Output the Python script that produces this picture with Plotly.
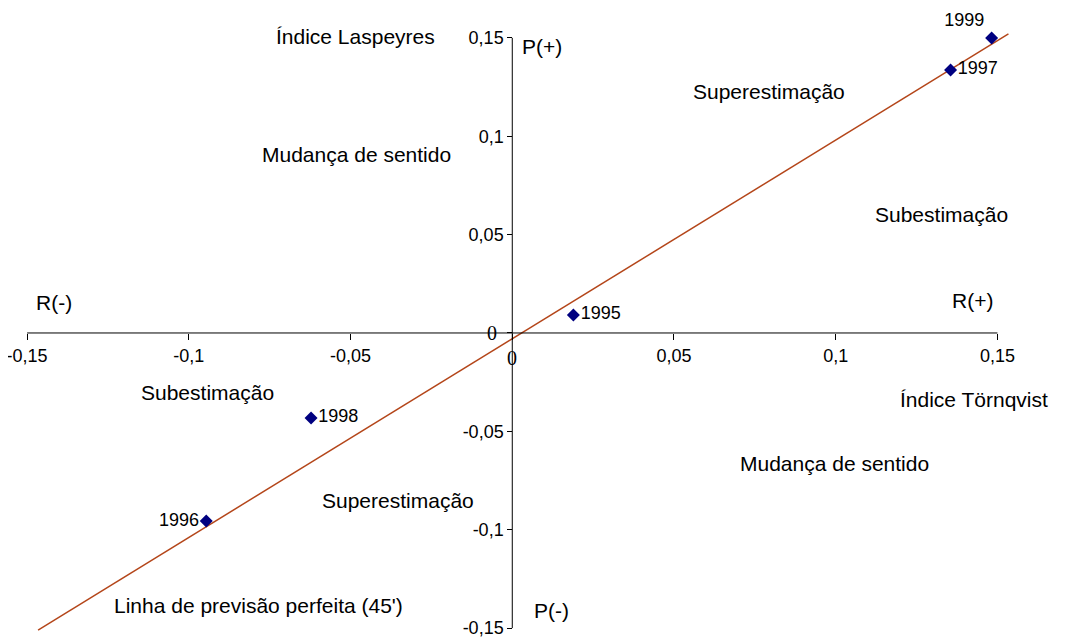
import plotly.graph_objects as go

# dados
anos = ['1995', '1996', '1997', '1998', '1999']
tornqvist = [0.0189, -0.0946, 0.1355, -0.0622, 0.1482]
laspeyres = [0.0092, -0.0956, 0.1337, -0.0432, 0.150]
pos_rotulo = ['middle right', 'middle left', 'middle right', 'middle right', 'top left']

linha_x = [-0.1466, 0.1534]
linha_y = [-0.151, 0.152]

ticks = [-0.15, -0.1, -0.05, 0, 0.05, 0.1, 0.15]
ticks_txt = ['-0,15', '-0,1', '-0,05', '', '0,05', '0,1', '0,15']

# rótulos das regiões (texto, x, y, xanchor)
rotulos = [
    ('Índice Laspeyres', -0.0486, 0.1505, 'center'),
    ('P(+)', 0.0025, 0.1454, 'left'),
    ('Superestimação', 0.0795, 0.123, 'center'),
    ('Mudança de sentido', -0.0483, 0.0905, 'center'),
    ('Subestimação', 0.1327, 0.060, 'center'),
    ('R(-)', -0.1417, 0.0153, 'center'),
    ('R(+)', 0.1423, 0.0163, 'center'),
    ('Subestimação', -0.0943, -0.030, 'center'),
    ('Índice Törnqvist', 0.1426, -0.034, 'center'),
    ('Mudança de sentido', 0.0996, -0.0661, 'center'),
    ('Superestimação', -0.0353, -0.0849, 'center'),
    ("Linha de previsão perfeita (45')", -0.0786, -0.1383, 'center'),
    ('P(-)', 0.0121, -0.1413, 'center'),
]

xr = [-0.1525, 0.1545]
yr = [-0.1525, 0.1535]

fig = go.Figure()

fig.add_trace(go.Scatter(
    x=linha_x, y=linha_y, mode='lines',
    line=dict(color='#B4461A', width=1.5),
    showlegend=False, hoverinfo='skip',
))

fig.add_trace(go.Scatter(
    x=tornqvist, y=laspeyres, mode='markers+text',
    text=anos, textposition=pos_rotulo,
    textfont=dict(size=18, color='black'),
    marker=dict(symbol='diamond', size=10, color='#000080'),
    showlegend=False, cliponaxis=False,
))

# eixos cruzando no zero
fig.add_shape(type='line', x0=-0.15, x1=0.15, y0=0, y1=0,
              line=dict(color='black', width=1))
fig.add_shape(type='line', x0=0, x1=0, y0=-0.15, y1=0.15,
              line=dict(color='black', width=1))

for txt, x, y, xa in rotulos:
    fig.add_annotation(x=x, y=y, text=txt, showarrow=False, xanchor=xa,
                       font=dict(size=21, color='black'))

# o "0" aparece em fonte serifada no original
fig.add_annotation(x=0, y=0, text='0', showarrow=False, xanchor='right',
                   xshift=-13, font=dict(family='Liberation Serif', size=20, color='black'))
fig.add_annotation(x=0, y=0, text='0', showarrow=False, yanchor='top',
                   yshift=-12, font=dict(family='Liberation Serif', size=20, color='black'))

fig.update_xaxes(range=xr, tickvals=ticks, ticktext=ticks_txt,
                 showgrid=False, zeroline=False, showline=False,
                 ticks='outside', ticklen=6, tickcolor='black',
                 anchor='free', position=(0 - yr[0]) / (yr[1] - yr[0]),
                 ticklabeloverflow='allow', automargin=False,
                 tickfont=dict(size=18, color='black'))
fig.update_yaxes(range=yr, tickvals=ticks, ticktext=ticks_txt,
                 showgrid=False, zeroline=False, showline=False,
                 ticks='outside', ticklen=5, tickcolor='black',
                 anchor='free', position=(0 - xr[0]) / (xr[1] - xr[0]),
                 ticklabeloverflow='allow', automargin=False,
                 tickfont=dict(size=18, color='black'))

fig.update_layout(
    width=1059, height=629,
    margin=dict(l=11, r=55, t=23, b=4, autoexpand=False),
    plot_bgcolor='white', paper_bgcolor='white',
    font=dict(family='Liberation Sans, Arial, sans-serif', color='black'),
)

fig.write_html('out.html')
